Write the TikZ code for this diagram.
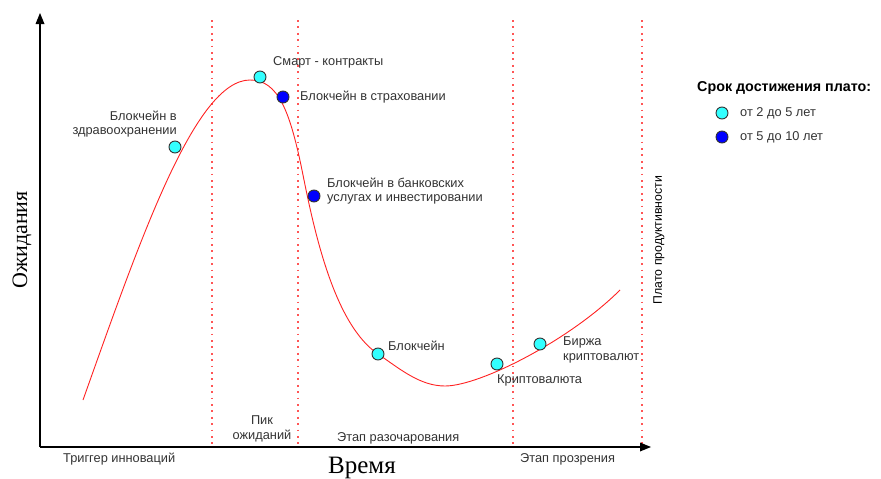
\documentclass[tikz,border=0pt]{standalone}
\usepackage{fontspec}
\setmainfont{Liberation Sans}
\newfontfamily\axisfont{Liberation Serif}
\definecolor{dotcyan}{HTML}{33FFFF}
\definecolor{dotblue}{HTML}{0000FF}
\definecolor{stagered}{HTML}{FF5555}
\definecolor{curvered}{HTML}{FF2222}
\definecolor{labelgray}{HTML}{333333}

\begin{document}
\begin{tikzpicture}[x=1pt,y=1pt,
  lbl/.style={font=\fontsize{12.8}{14.5}\selectfont, text=labelgray},
  axlbl/.style={font=\axisfont\fontsize{22}{24}\selectfont, text=black},
  dotA/.style={circle, draw=black!80, line width=0.9pt, fill=dotcyan, minimum size=12pt},
  dotB/.style={dotA, fill=dotblue},
  stage/.style={stagered, line width=2pt, dash pattern=on 1.8pt off 4.6pt}]
\tikzstyle{every node}+=[inner sep=0pt]
\useasboundingbox (0,0) rectangle (881,-479);
% stages
\draw [stage] (212,-20) -- (212,-447);
\draw [stage] (298,-20) -- (298,-447);
\draw [stage] (513,-20) -- (513,-447);
\draw [stage] (642,-20) -- (642,-447);
% axes
\coordinate (origin) at (40,-447);
\coordinate (ytip) at (40,-13);
\coordinate (xtip) at (651,-447);
\draw [black, line width=1.3pt] (origin) -- ([yshift=-6pt]ytip);
\fill [black] (ytip) -- ++(-4.5,-11) -- ++(9,0) -- cycle;
\draw [black, line width=1.3pt] (origin) -- ([xshift=-6pt]xtip);
\fill [black] (xtip) -- ++(-11,4.5) -- ++(0,-9) -- cycle;
% hype curve
\draw [curvered, line width=0.9pt] (83,-400) .. controls (140,-240) and (195,-80) .. (250,-80)
  .. controls (278,-80) and (290,-110) .. (303,-175)
  .. controls (315,-235) and (335,-325) .. (378,-354)
  .. controls (400,-369) and (420,-386) .. (445,-386)
  .. controls (480,-386) and (570,-340) .. (620,-290);
% technologies
\node [dotA] (health) at (175,-147) {};
\node [dotA] (smart) at (260,-77) {};
\node [dotB] (insur) at (283,-97) {};
\node [dotB] (bank) at (314,-196) {};
\node [dotA] (chain) at (378,-354) {};
\node [dotA] (crypto) at (497,-364) {};
\node [dotA] (exch) at (540,-344) {};
\node [lbl, align=right, anchor=east] (healthtxt) at (177,-124) {Блокчейн в\\здравоохранении};
\node [lbl, anchor=west] (smarttxt) at (273,-62) {Смарт - контракты};
\node [lbl, anchor=west] (insurtxt) at (300,-97) {Блокчейн в страховании};
\node [lbl, align=left, anchor=west] (banktxt) at (327,-191) {Блокчейн в банковских\\услугах и инвестировании};
\node [lbl, anchor=west] (chaintxt) at (388,-346) {Блокчейн};
\node [lbl, anchor=west] (cryptotxt) at (497,-380) {Криптовалюта};
\node [lbl, align=left, anchor=west] (exchtxt) at (563,-350) {Биржа\\криптовалют};
% stage names
\node [lbl, anchor=west] (trigger) at (63,-459) {Триггер инноваций};
\node [lbl, align=center] (peak) at (262,-429) {Пик\\ожиданий};
\node [lbl, anchor=west] (trough) at (337,-438) {Этап разочарования};
\node [lbl, anchor=west] (slope) at (520,-459) {Этап прозрения};
\node [rotate=90, text=black, font=\fontsize{12.3}{14}\selectfont] (plateau) at (659,-240) {Плато продуктивности};
% axis names
\node [axlbl, anchor=base, font=\axisfont\fontsize{25}{27}\selectfont] (timetxt) at (362,-473) {Время};
\node [axlbl, rotate=90] (expect) at (22,-240) {Ожидания};
% legend
\node [anchor=west, text=black, font=\bfseries\fontsize{14.3}{16}\selectfont] (legtitle) at (697,-88) {Срок достижения плато:};
\node [dotA] (legA) at (722,-113) {};
\node [dotB] (legB) at (722,-137) {};
\node [lbl, anchor=west] (legAtxt) at (740,-113) {от 2 до 5 лет};
\node [lbl, anchor=west] (legBtxt) at (740,-137) {от 5 до 10 лет};
\end{tikzpicture}
\end{document}
